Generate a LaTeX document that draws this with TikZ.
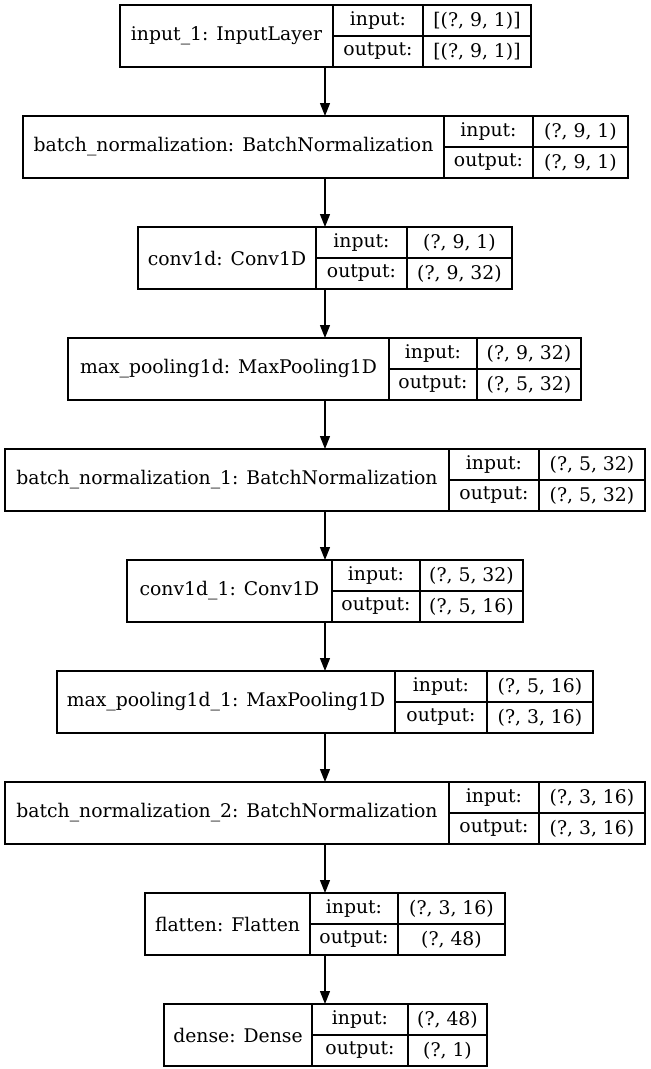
\documentclass[tikz,border=0pt]{standalone}
\usepackage{fontspec}
\setmainfont{DejaVu Serif}
\usetikzlibrary{arrows.meta}

\tikzset{
  layerbox/.style={draw=black, minimum width=#1, minimum height=62pt, inner sep=0pt, outer sep=0pt},
  portbox/.style={draw=black, minimum width=#1, minimum height=31pt, inner sep=0pt, outer sep=0pt},
}

\begin{document}
\begin{tikzpicture}[x=1pt,y=-1pt,->,>={Triangle[length=13pt,width=10pt]},line width=1.3pt,font=\fontsize{18.8}{22}\selectfont]
                \useasboundingbox (0,0) rectangle (651,1069);
                \coordinate (axis) at (325, 0);
                % input_1
                \node[layerbox=411pt](L1)at(325.5, 36){};
                \node[layerbox=213pt](L1n)at(226.5, 36){input\_1: InputLayer};
                \node[portbox=90pt](L1i)at(378, 20.5){input:};
                \node[portbox=90pt](L1o)at(378, 51.5){output:};
                \node[portbox=108pt](L1a)at(477, 20.5){[(?, 9, 1)]};
                \node[portbox=108pt](L1b)at(477, 51.5){[(?, 9, 1)]};
                % batch_normalization
                \node[layerbox=605pt](L2)at(325.5, 147){};
                \node[layerbox=421pt](L2n)at(233.5, 147){batch\_normalization: BatchNormalization};
                \node[portbox=89pt](L2i)at(488.5, 131.5){input:};
                \node[portbox=89pt](L2o)at(488.5, 162.5){output:};
                \node[portbox=95pt](L2a)at(580.5, 131.5){(?, 9, 1)};
                \node[portbox=95pt](L2b)at(580.5, 162.5){(?, 9, 1)};
                % conv1d
                \node[layerbox=374pt](L3)at(325, 258){};
                \node[layerbox=178pt](L3n)at(227, 258){conv1d: Conv1D};
                \node[portbox=91pt](L3i)at(361.5, 242.5){input:};
                \node[portbox=91pt](L3o)at(361.5, 273.5){output:};
                \node[portbox=105pt](L3a)at(459.5, 242.5){(?, 9, 1)};
                \node[portbox=105pt](L3b)at(459.5, 273.5){(?, 9, 32)};
                % max_pooling1d
                \node[layerbox=513pt](L4)at(324.5, 369){};
                \node[layerbox=321pt](L4n)at(228.5, 369){max\_pooling1d: MaxPooling1D};
                \node[portbox=88pt](L4i)at(433, 353.5){input:};
                \node[portbox=88pt](L4o)at(433, 384.5){output:};
                \node[portbox=104pt](L4a)at(529, 353.5){(?, 9, 32)};
                \node[portbox=104pt](L4b)at(529, 384.5){(?, 5, 32)};
                % batch_normalization_1
                \node[layerbox=640pt](L5)at(325, 480){};
                \node[layerbox=444pt](L5n)at(227, 480){batch\_normalization\_1: BatchNormalization};
                \node[portbox=90pt](L5i)at(494, 464.5){input:};
                \node[portbox=90pt](L5o)at(494, 495.5){output:};
                \node[portbox=106pt](L5a)at(592, 464.5){(?, 5, 32)};
                \node[portbox=106pt](L5b)at(592, 495.5){(?, 5, 32)};
                % conv1d_1
                \node[layerbox=396pt](L6)at(325, 591){};
                \node[layerbox=205pt](L6n)at(229.5, 591){conv1d\_1: Conv1D};
                \node[portbox=88pt](L6i)at(376, 575.5){input:};
                \node[portbox=88pt](L6o)at(376, 606.5){output:};
                \node[portbox=103pt](L6a)at(471.5, 575.5){(?, 5, 32)};
                \node[portbox=103pt](L6b)at(471.5, 606.5){(?, 5, 16)};
                % max_pooling1d_1
                \node[layerbox=536pt](L7)at(325, 702){};
                \node[layerbox=338pt](L7n)at(226, 702){max\_pooling1d\_1: MaxPooling1D};
                \node[portbox=92pt](L7i)at(441, 686.5){input:};
                \node[portbox=92pt](L7o)at(441, 717.5){output:};
                \node[portbox=106pt](L7a)at(540, 686.5){(?, 5, 16)};
                \node[portbox=106pt](L7b)at(540, 717.5){(?, 3, 16)};
                % batch_normalization_2
                \node[layerbox=640pt](L8)at(325, 813){};
                \node[layerbox=444pt](L8n)at(227, 813){batch\_normalization\_2: BatchNormalization};
                \node[portbox=90pt](L8i)at(494, 797.5){input:};
                \node[portbox=90pt](L8o)at(494, 828.5){output:};
                \node[portbox=106pt](L8a)at(592, 797.5){(?, 3, 16)};
                \node[portbox=106pt](L8b)at(592, 828.5){(?, 3, 16)};
                % flatten
                \node[layerbox=360pt](L9)at(325, 924){};
                \node[layerbox=165pt](L9n)at(227.5, 924){flatten: Flatten};
                \node[portbox=88pt](L9i)at(354, 908.5){input:};
                \node[portbox=88pt](L9o)at(354, 939.5){output:};
                \node[portbox=107pt](L9a)at(451.5, 908.5){(?, 3, 16)};
                \node[portbox=107pt](L9b)at(451.5, 939.5){(?, 48)};
                % dense
                \node[layerbox=323pt](L10)at(325.5, 1035){};
                \node[layerbox=148pt](L10n)at(238, 1035){dense: Dense};
                \node[portbox=96pt](L10i)at(360, 1019.5){input:};
                \node[portbox=96pt](L10o)at(360, 1050.5){output:};
                \node[portbox=79pt](L10a)at(447.5, 1019.5){(?, 48)};
                \node[portbox=79pt](L10b)at(447.5, 1050.5){(?, 1)};
                \path[]
                (L1.south -| axis) edge (L2.north -| axis)
                (L2.south -| axis) edge (L3.north -| axis)
                (L3.south -| axis) edge (L4.north -| axis)
                (L4.south -| axis) edge (L5.north -| axis)
                (L5.south -| axis) edge (L6.north -| axis)
                (L6.south -| axis) edge (L7.north -| axis)
                (L7.south -| axis) edge (L8.north -| axis)
                (L8.south -| axis) edge (L9.north -| axis)
                (L9.south -| axis) edge (L10.north -| axis);
\end{tikzpicture}
\end{document}
